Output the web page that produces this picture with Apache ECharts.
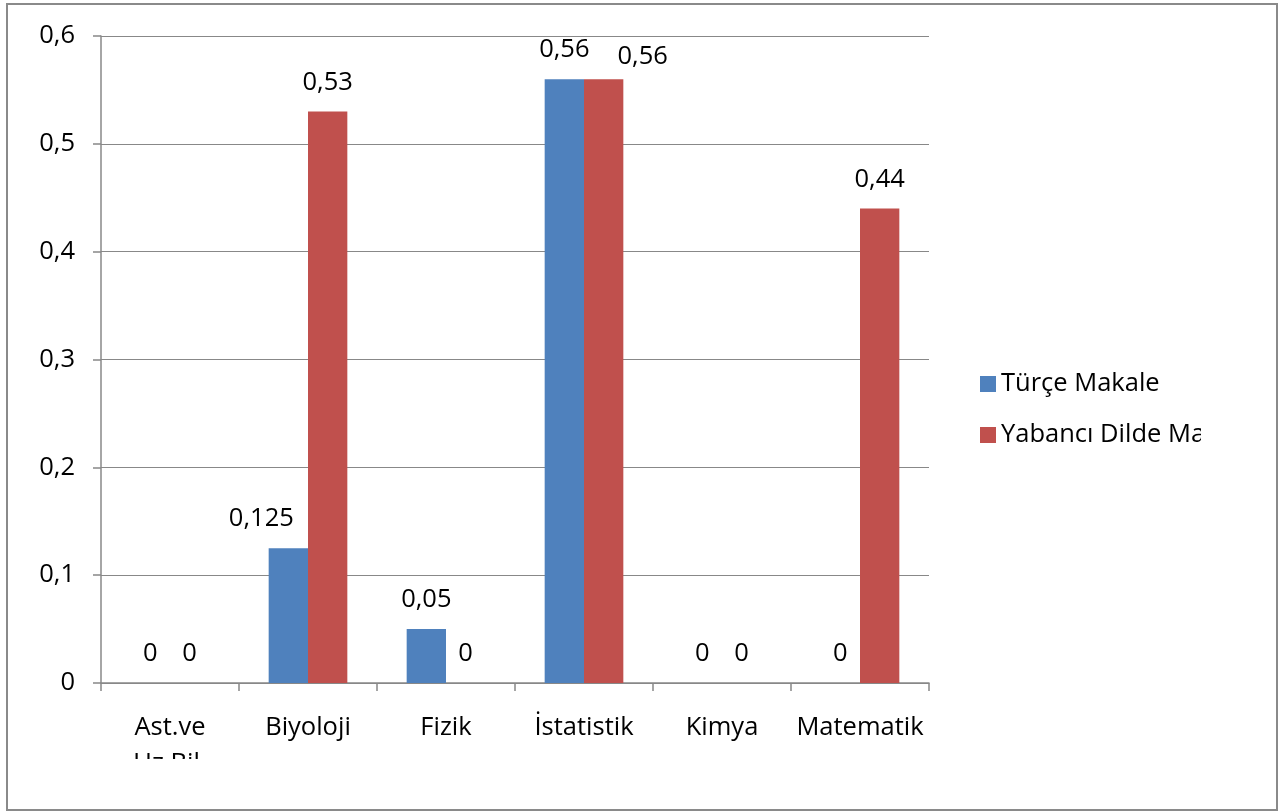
<!DOCTYPE html>
<html><head><meta charset="utf-8">
<script src="https://cdn.jsdelivr.net/npm/echarts@6/dist/echarts.min.js"></script>
<style>html,body{margin:0;padding:0;background:#fff}#c{width:1287px;height:812px}</style>
</head><body><div id="c"></div>
<script>
const categories = ['Ast.ve\nUz.Bil.', 'Biyoloji', 'Fizik', 'İstatistik', 'Kimya', 'Matematik'];
const seriesNames = ['Türçe Makale', 'Yabancı Dilde Makale'];
const turkceValues = [0, 0.125, 0.05, 0.56, 0, 0];
const yabanciValues = [0, 0.53, 0, 0.56, 0, 0.44];
const yTicks = { min: 0, max: 0.6, interval: 0.1 };

const FONT = 'Open Sans';
const FS = 25.5;
const fmt = v => String(+v.toFixed(3)).replace('.', ',');
// label nudges (as in the original, where overlapping labels were moved)
const labelOffsets = [{ 1: [-27, 0] }, { 3: [39, 7] }];
const chart = echarts.init(document.getElementById('c'));
const lbl = {
  show: true, position: 'top', distance: 17, fontSize: FS, lineHeight: 24,
  fontFamily: FONT, color: '#000', formatter: p => fmt(p.value)
};
const build = (vals, si) => vals.map((v, i) => labelOffsets[si][i] ? { value: v, label: { offset: labelOffsets[si][i] } } : v);
chart.setOption({
  animation: false,
  backgroundColor: '#fff',
  grid: { left: 101, top: 36, right: 358, bottom: 129 },
  legend: {
    orient: 'vertical', left: 975, top: 366, itemWidth: 16, itemHeight: 16,
    itemGap: 25, icon: 'rect',
    textStyle: { fontSize: FS, fontFamily: FONT, color: '#000' },
    data: seriesNames
  },
  xAxis: {
    type: 'category', data: categories,
    axisLine: { lineStyle: { color: '#888', width: 1.5 } },
    axisTick: { show: true, length: 8, lineStyle: { color: '#888', width: 1.5 } },
    axisLabel: { fontSize: FS, fontFamily: FONT, color: '#000', margin: 27, lineHeight: 36, interval: 0 }
  },
  yAxis: {
    type: 'value', min: yTicks.min, max: yTicks.max, interval: yTicks.interval,
    axisLine: { show: true, lineStyle: { color: '#888', width: 1.5 } },
    axisTick: { show: true, length: 8, lineStyle: { color: '#888', width: 1.5 } },
    splitLine: { lineStyle: { color: '#888', width: 1.2 } },
    axisLabel: { fontSize: FS, fontFamily: FONT, color: '#000', margin: 26, formatter: v => fmt(v) }
  },
  series: [
    { name: seriesNames[0], type: 'bar', data: build(turkceValues, 0), barGap: '0%', barCategoryGap: '43%',
      itemStyle: { color: '#4F81BD' }, label: lbl },
    { name: seriesNames[1], type: 'bar', data: build(yabanciValues, 1), barGap: '0%', barCategoryGap: '43%',
      itemStyle: { color: '#C0504D' }, label: lbl }
  ],
  graphic: [
    { type: 'rect', z: 100, shape: { x: 9, y: 759, width: 1266, height: 49 }, style: { fill: '#fff' } },
    { type: 'rect', z: 100, shape: { x: 1201, y: 340, width: 74, height: 130 }, style: { fill: '#fff' } },
    { type: 'rect', z: 101, shape: { x: 7, y: 4, width: 1270, height: 806 }, style: { fill: 'none', stroke: '#8a8a8a', lineWidth: 2 } }
  ]
});
</script></body></html>
